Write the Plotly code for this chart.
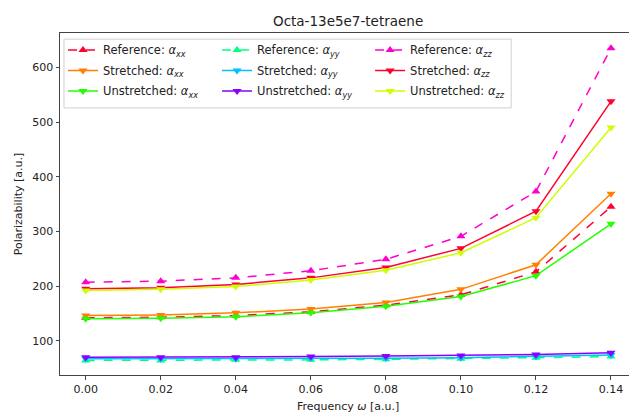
import plotly.graph_objects as go

# Frequency grid [a.u.]
frequency = [0.00, 0.02, 0.04, 0.06, 0.08, 0.10, 0.12, 0.14]

# Polarizability components [a.u.]
ref_xx = [142, 143, 146, 153, 165, 184, 226, 345]
str_xx = [146, 147, 151, 158, 170, 194, 239, 369]
uns_xx = [140, 141, 144, 151, 163, 181, 219, 314]

ref_yy = [64, 64, 65, 65, 66, 67, 69, 71]
str_yy = [67, 67, 67, 68, 68, 69, 71, 74]
uns_yy = [70, 70, 70, 71, 72, 73, 75, 78]

ref_zz = [207, 209, 215, 228, 249, 291, 373, 635]
str_zz = [195, 197, 203, 215, 234, 269, 337, 538]
uns_zz = [192, 194, 199, 211, 229, 261, 325, 490]

x_ticks = [0.00, 0.02, 0.04, 0.06, 0.08, 0.10, 0.12, 0.14]
y_ticks = [100, 200, 300, 400, 500, 600]

FONT = "DejaVu Sans"
TEXT = "#222222"


def comp(label):
    return f"<i>α</i><sub><i>{label}</i></sub>"


# (name, values, colour, dashed reference?, legend column)
series = [
    ("Reference: " + comp("xx"), ref_xx, "#ff0033", True, "legend"),
    ("Stretched: " + comp("xx"), str_xx, "#ff8000", False, "legend"),
    ("Unstretched: " + comp("xx"), uns_xx, "#22ff00", False, "legend"),
    ("Reference: " + comp("yy"), ref_yy, "#00ff80", True, "legend2"),
    ("Stretched: " + comp("yy"), str_yy, "#00c0ff", False, "legend2"),
    ("Unstretched: " + comp("yy"), uns_yy, "#8800ff", False, "legend2"),
    ("Reference: " + comp("zz"), ref_zz, "#ff00cc", True, "legend3"),
    ("Stretched: " + comp("zz"), str_zz, "#ff0030", False, "legend3"),
    ("Unstretched: " + comp("zz"), uns_zz, "#ccff00", False, "legend3"),
]

fig = go.Figure()
for i, (name, vals, color, is_ref, leg) in enumerate(series):
    fig.add_trace(go.Scatter(
        x=frequency, y=vals, name=name, mode="lines+markers",
        legend=leg, legendgroup=f"g{i}",
        line=dict(color=color, width=1.5, dash="dash" if is_ref else "solid"),
        marker=dict(symbol="triangle-up" if is_ref else "triangle-down",
                    size=8, color=color),
    ))

legend_font = dict(family=FONT, size=11.5, color=TEXT)
tick_font = dict(family=FONT, size=11, color=TEXT)


def column_legend(x):
    return dict(
        orientation="v", x=x, y=0.993, xanchor="left", yanchor="top",
        bgcolor="rgba(0,0,0,0)", borderwidth=0, font=legend_font,
        itemwidth=30, tracegroupgap=1.5,
    )


fig.update_layout(
    width=629, height=412,
    margin=dict(l=60, r=0, t=33, b=37),
    paper_bgcolor="white", plot_bgcolor="white",
    font=dict(family=FONT, size=11, color=TEXT),
    showlegend=True,
    legend=column_legend(0.0053),
    legend2=column_legend(0.276),
    legend3=column_legend(0.545),
    shapes=[
        # frame around the three legend columns
        dict(type="rect", xref="paper", yref="paper",
             x0=0.007, x1=0.793, y0=0.781, y1=0.982,
             line=dict(color="#d0d0d0", width=1),
             fillcolor="rgba(255,255,255,0.8)", layer="below"),
    ],
    xaxis=dict(
        range=[-0.00685, 0.1448], tickvals=x_ticks, tickformat=".2f",
        showgrid=False, zeroline=False, showline=True, mirror=True,
        linecolor="#444444", linewidth=1,
        ticks="outside", ticklen=3.5, tickcolor="#444444",
        tickfont=tick_font,
    ),
    yaxis=dict(
        range=[37.3, 663], tickvals=y_ticks,
        showgrid=False, zeroline=False, showline=True, mirror=False,
        linecolor="#444444", linewidth=1,
        ticks="outside", ticklen=3.5, tickcolor="#444444",
        tickfont=tick_font,
        title=dict(text="Polarizability [a.u.]", standoff=7,
                   font=dict(family=FONT, size=11, color=TEXT)),
    ),
    annotations=[
        dict(text="Octa-13e5e7-tetraene", xref="paper", yref="paper",
             x=0.506, y=1, yshift=12, xanchor="center", yanchor="middle",
             showarrow=False, font=dict(family=FONT, size=13.5, color=TEXT)),
        dict(text="Frequency <i>ω</i> [a.u.]", xref="paper", yref="paper",
             x=0.506, y=0, yshift=-31, xanchor="center", yanchor="middle",
             showarrow=False, font=dict(family=FONT, size=11, color=TEXT)),
    ],
)

fig.write_html("out.html")
